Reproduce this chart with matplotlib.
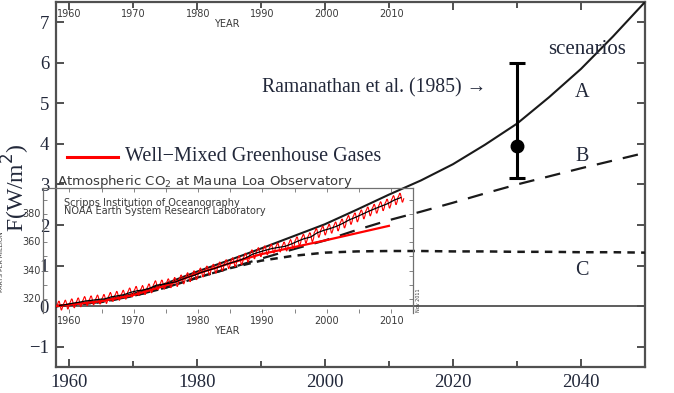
import numpy as np
import matplotlib
matplotlib.use("Agg")
import matplotlib.pyplot as plt
from matplotlib.ticker import MultipleLocator

# ---------------- data ----------------
scen_years = [1958, 1965, 1970, 1975, 1980, 1985, 1990, 1995, 2000, 2005, 2010,
              2015, 2020, 2025, 2030, 2035, 2040, 2045, 2050]
scen_A = [0.0, 0.13, 0.30, 0.55, 0.85, 1.13, 1.42, 1.72, 2.02, 2.38, 2.75,
          3.10, 3.50, 3.98, 4.50, 5.15, 5.85, 6.65, 7.50]
scen_B = [0.0, 0.10, 0.25, 0.45, 0.70, 0.93, 1.17, 1.40, 1.62, 1.88, 2.12,
          2.33, 2.55, 2.78, 3.00, 3.20, 3.40, 3.59, 3.78]
scen_C = [0.0, 0.10, 0.25, 0.45, 0.70, 0.93, 1.12, 1.24, 1.32, 1.35, 1.36,
          1.36, 1.35, 1.35, 1.34, 1.34, 1.33, 1.33, 1.32]

wmghg_years = [1958, 1965, 1970, 1975, 1980, 1985, 1990, 1995, 2000, 2005, 2010]
wmghg = [0.0, 0.12, 0.27, 0.50, 0.80, 1.05, 1.28, 1.45, 1.62, 1.80, 1.98]

ram_year = 2030
ram_center = 3.96
ram_low = 3.15
ram_high = 6.0

co2_years = list(range(1958, 2012))
co2_annual = [315.3, 316.0, 316.9, 317.6, 318.5, 319.0, 319.6, 320.0, 321.4, 322.2,
              323.0, 324.6, 325.7, 326.3, 327.5, 329.7, 330.2, 331.1, 332.0, 333.8,
              335.4, 336.8, 338.7, 340.1, 341.4, 343.0, 344.6, 346.0, 347.4, 349.2,
              351.6, 353.1, 354.4, 355.6, 356.4, 357.1, 358.8, 360.8, 362.6, 363.7,
              366.7, 368.4, 369.7, 371.3, 373.4, 375.9, 377.7, 379.8, 381.9, 383.8,
              385.6, 387.4, 389.9, 391.6]
co2_seasonal = [0.0, 0.7, 1.4, 2.6, 3.1, 2.4, 0.9, -1.2, -3.0, -3.2, -2.0, -0.8]

main_xticks = [1960, 1980, 2000, 2020, 2040]
main_yticks = [-1, 0, 1, 2, 3, 4, 5, 6, 7]
inset_xticks = [1960, 1970, 1980, 1990, 2000, 2010]
inset_yticks = [320, 340, 360, 380]

# ---------------- figure ----------------
W, H = 674, 393
fig = plt.figure(figsize=(W / 100, H / 100), dpi=100)

def fx(px):
    return px / W

def fy(py):
    return 1 - py / H

serif = ['Liberation Serif', 'DejaVu Serif']
sans = ['DejaVu Sans']
txtc = '#22283a'
spc = '#505050'

L, R, T, B = 56, 645, 2, 367
ax = fig.add_axes([fx(L), fy(B), fx(R - L), (B - T) / H])
ax.set_xlim(1958, 2050)
ax.set_ylim(-1.5, 7.5)

ax.plot(scen_years, scen_A, color='#1a1a1a', lw=1.5, zorder=3)
ax.plot(scen_years, scen_B, color='#1a1a1a', lw=1.6, dashes=(7, 5), zorder=3)
ax.plot(scen_years, scen_C, color='#1a1a1a', lw=1.8, dashes=(3, 2.5), zorder=3)
ax.plot(wmghg_years, wmghg, color='red', lw=1.6, zorder=4)
ax.axhline(0, color=spc, lw=1.3, zorder=2)

ax.errorbar([ram_year], [ram_center],
            yerr=[[ram_center - ram_low], [ram_high - ram_center]],
            fmt='o', color='black', ms=9, lw=2.2, capsize=6, capthick=2.2, zorder=5)

for s in ax.spines.values():
    s.set_color(spc)
    s.set_linewidth(1.6)

ax.set_xticks(main_xticks)
ax.xaxis.set_minor_locator(MultipleLocator(10))
ax.set_yticks(main_yticks)
ax.set_yticklabels(['\u22121' if v < 0 else str(v) for v in main_yticks])
ax.tick_params(axis='both', which='major', direction='in', length=6, width=1.4,
               color=spc, top=True, right=True, labelsize=13.5, labelcolor=txtc)
ax.tick_params(axis='x', which='minor', direction='in', length=4, width=1.4,
               color=spc, top=True)
ax.tick_params(axis='x', which='major', pad=5)
ax.tick_params(axis='y', which='major', pad=5)
for lab in ax.get_xticklabels() + ax.get_yticklabels():
    lab.set_family(serif)

# annotations
ax.text(2041.0, 6.32, 'scenarios', family=serif, fontsize=15, color=txtc,
        ha='center', va='center', zorder=6)
ax.text(2040.2, 5.28, 'A', family=serif, fontsize=14.5, color=txtc, ha='center', va='center')
ax.text(2040.2, 3.68, 'B', family=serif, fontsize=14.5, color=txtc, ha='center', va='center')
ax.text(2040.2, 0.89, 'C', family=serif, fontsize=14.5, color=txtc, ha='center', va='center')
ax.text(2025.2, 5.38, 'Ramanathan et al. (1985) \u2192', family=serif, fontsize=14.2,
        color=txtc, ha='right', va='center')
ax.plot([1959.7, 1967.7], [3.68, 3.68], color='red', lw=2.2)
ax.text(1968.8, 3.68, 'Well\u2212Mixed Greenhouse Gases', family=serif, fontsize=14.5,
        color=txtc, ha='left', va='center')

fig.text(fx(16), fy(188), 'F(W/m$^2$)', family=serif, fontsize=17, color=txtc,
         rotation=90, ha='center', va='center')

# ---------------- inset (Mauna Loa CO2) ----------------
iL, iR, iT, iB = 43, 413, 188, 313
ins = fig.add_axes([fx(iL), fy(iB), fx(iR - iL), (iB - iT) / H])
ins.patch.set_alpha(0)
ins.set_xlim(1955.9, 2013.4)
ins.set_ylim(310, 398.4)

mx, my = [], []
for yr, base in zip(co2_years, co2_annual):
    for m, off in enumerate(co2_seasonal):
        mx.append(yr + (m + 0.5) / 12)
        my.append(base + off)
ins.plot(mx, my, color='red', lw=0.8, zorder=3)
ins.plot([y + 0.5 for y in co2_years], co2_annual, color='black', lw=0.9, zorder=4)

for k in ['left', 'right', 'top']:
    ins.spines[k].set_color('#707070')
    ins.spines[k].set_linewidth(0.9)
ins.spines['bottom'].set_visible(False)
ins.set_xticks(range(1960, 2015, 5))
ins.set_xticklabels([])
ins.set_yticks(range(320, 400, 10))
ins.set_yticklabels([])
ins.tick_params(direction='in', length=3, width=0.6, color='#707070',
                top=True, right=True, bottom=True, left=True)

ic = '#3a3a3a'
for v in inset_yticks:
    ylab = iB - (v - 310) / (398.4 - 310) * (iB - iT)
    fig.text(fx(41), fy(ylab), str(v), family=sans, fontsize=7, color=ic,
             ha='right', va='center')
for v in inset_xticks:
    xp = iL + (v - 1955.9) / (2013.4 - 1955.9) * (iR - iL)
    fig.text(fx(xp), fy(321), str(v), family=sans, fontsize=7, color=ic,
             ha='center', va='center')
    fig.text(fx(xp), fy(14), str(v), family=sans, fontsize=7, color=ic,
             ha='center', va='center')
fig.text(fx(227), fy(331), 'YEAR', family=sans, fontsize=7, color=ic,
         ha='center', va='center')
fig.text(fx(227), fy(24), 'YEAR', family=sans, fontsize=7, color=ic,
         ha='center', va='center')

fig.text(fx(57), fy(181), 'Atmospheric CO$_2$ at Mauna Loa Observatory', family=sans,
         fontsize=9.5, color=ic, ha='left', va='center')
fig.text(fx(64), fy(202.5), 'Scripps Institution of Oceanography', family=sans,
         fontsize=7, color=ic, ha='left', va='center')
fig.text(fx(64), fy(211.5), 'NOAA Earth System Research Laboratory', family=sans,
         fontsize=7, color=ic, ha='left', va='center')
fig.text(fx(2), fy(262), 'PARTS PER MILLION', family=sans, fontsize=4.5,
         color=ic, rotation=90, ha='center', va='center')
fig.text(fx(418), fy(300), 'Nov 2011', family=sans, fontsize=3.5,
         color=ic, rotation=90, ha='center', va='center')

fig.savefig('out.png', dpi=100)
